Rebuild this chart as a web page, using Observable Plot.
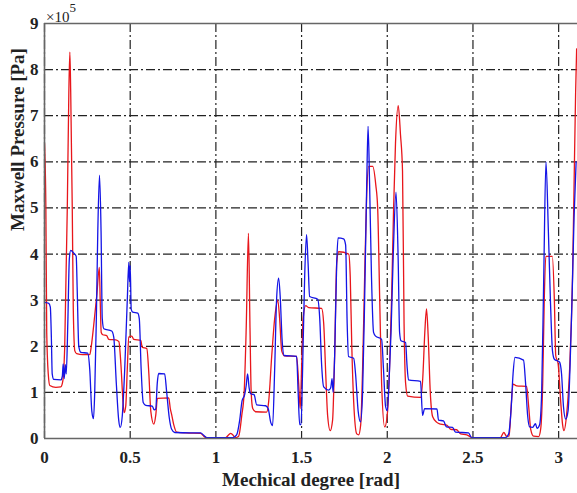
<!DOCTYPE html>
<html>
<head>
<meta charset="utf-8">
<script src="https://cdn.jsdelivr.net/npm/d3@7"></script>
<script src="https://cdn.jsdelivr.net/npm/@observablehq/plot@0.6"></script>
<style>
  html, body { margin: 0; padding: 0; background: #ffffff; }
  svg { display: block; }
  .mx [aria-label="x-axis tick label"], .mx [aria-label="y-axis tick label"] {
    font-size: 17px !important;
    font-weight: bold !important;
    font-family: 'Liberation Serif', 'Times New Roman', Times, serif !important;
  }
</style>
</head>
<body>
<div id="chart"></div>
<script>
// ---- tick values / labels ----
const xTicks = [0, 0.5, 1, 1.5, 2, 2.5, 3];
const yTicks = [0, 1, 2, 3, 4, 5, 6, 7, 8, 9];
const xLabel = "Mechical degree [rad]";
const yLabel = "Maxwell Pressure [Pa]";
const yExponentBase = "×10";
const yExponent = "5";

// ---- red series (x in rad, y in units of 1e5 Pa) ----
const redX = [0.000,0.008,0.013,0.022,0.031,0.066,0.095,0.107,0.118,0.133,0.142,0.148,0.153,0.162,0.168,0.177,0.188,0.223,0.264,0.273,0.287,0.305,0.320,0.325,0.331,0.340,0.363,0.375,0.416,0.434,0.446,0.458,0.465,0.474,0.483,0.492,0.509,0.521,0.562,0.570,0.597,0.609,0.620,0.638,0.649,0.659,0.725,0.734,0.742,0.754,0.771,0.824,0.911,0.929,0.946,1.057,1.075,1.086,1.098,1.115,1.133,1.151,1.165,1.177,1.190,1.199,1.206,1.215,1.232,1.296,1.308,1.326,1.343,1.361,1.372,1.384,1.401,1.471,1.483,1.492,1.500,1.509,1.524,1.541,1.617,1.629,1.641,1.652,1.667,1.681,1.693,1.705,1.717,1.775,1.784,1.793,1.804,1.822,1.833,1.845,1.856,1.868,1.880,1.892,1.915,1.933,1.944,1.956,1.967,1.985,2.002,2.013,2.025,2.037,2.048,2.064,2.077,2.089,2.098,2.107,2.119,2.195,2.207,2.219,2.229,2.239,2.251,2.265,2.289,2.312,2.347,2.370,2.405,2.428,2.464,2.497,2.660,2.680,2.696,2.711,2.723,2.734,2.755,2.813,2.825,2.837,2.854,2.883,2.895,2.907,2.916,2.925,2.963,2.975,2.983,2.997,3.012,3.023,3.031,3.046,3.064,3.081,3.090,3.099,3.105];
const redY = [6.40,5.00,2.30,1.40,1.15,1.11,1.12,1.25,2.00,5.00,7.50,8.38,7.50,5.00,2.80,1.90,1.84,1.82,1.82,2.00,2.45,3.10,3.71,3.00,2.30,2.25,2.23,2.15,2.14,2.10,1.60,0.80,0.56,0.70,1.50,2.20,2.22,2.15,2.13,1.98,1.95,1.40,0.60,0.31,0.50,0.87,0.88,0.65,0.52,0.30,0.14,0.12,0.11,0.05,0.02,0.02,0.08,0.11,0.08,0.02,0.05,0.50,1.00,2.40,4.45,2.40,1.00,0.65,0.58,0.57,0.80,1.80,2.60,3.00,2.60,1.90,1.79,1.78,1.20,0.65,1.50,2.60,2.88,2.84,2.82,2.50,1.40,0.50,0.17,0.40,1.80,3.80,4.05,4.00,3.50,2.00,0.80,0.10,0.08,0.30,1.50,3.50,5.30,5.90,5.90,5.50,5.00,3.00,1.20,0.25,0.60,1.50,3.00,5.00,6.40,7.22,6.60,5.80,2.50,1.20,0.92,0.89,1.30,2.30,2.81,2.20,1.00,0.47,0.35,0.31,0.29,0.20,0.19,0.10,0.08,0.02,0.02,0.13,0.05,0.05,0.70,1.18,1.14,1.13,0.70,0.20,0.05,0.04,0.20,1.20,3.00,3.95,3.95,3.00,1.80,1.62,0.80,0.30,0.17,0.50,1.50,3.50,5.50,7.50,8.45];

// ---- blue series (x in rad, y in units of 1e5 Pa) ----
const blueX = [0.000,0.025,0.034,0.040,0.045,0.054,0.095,0.104,0.109,0.115,0.121,0.127,0.136,0.145,0.153,0.171,0.185,0.191,0.200,0.212,0.252,0.264,0.276,0.286,0.293,0.302,0.311,0.321,0.330,0.337,0.346,0.392,0.404,0.419,0.433,0.442,0.454,0.468,0.483,0.492,0.496,0.500,0.506,0.515,0.544,0.553,0.564,0.576,0.591,0.629,0.640,0.649,0.658,0.666,0.701,0.713,0.728,0.742,0.760,0.853,0.911,0.929,0.946,1.098,1.121,1.139,1.153,1.168,1.177,1.185,1.194,1.203,1.223,1.238,1.290,1.305,1.320,1.331,1.343,1.354,1.366,1.375,1.387,1.398,1.471,1.480,1.489,1.497,1.506,1.518,1.529,1.538,1.547,1.594,1.606,1.617,1.629,1.658,1.670,1.678,1.684,1.693,1.705,1.713,1.745,1.757,1.766,1.774,1.804,1.815,1.830,1.844,1.856,1.868,1.880,1.888,1.897,1.908,1.920,1.932,1.967,1.978,1.990,2.000,2.010,2.022,2.035,2.051,2.063,2.072,2.080,2.107,2.115,2.124,2.194,2.206,2.218,2.290,2.299,2.328,2.346,2.381,2.398,2.474,2.492,2.690,2.708,2.722,2.734,2.745,2.795,2.807,2.819,2.831,2.847,2.865,2.874,2.889,2.901,2.913,2.926,2.940,2.952,2.964,2.975,3.005,3.017,3.028,3.041,3.055,3.066,3.078,3.090,3.102];
const blueY = [2.95,2.93,2.85,2.20,1.40,1.28,1.27,1.35,1.62,1.30,1.60,1.40,2.50,3.90,4.08,4.02,3.95,3.20,2.00,1.87,1.85,1.50,0.60,0.43,1.00,2.50,4.50,5.71,4.50,2.60,2.38,2.33,2.20,1.20,0.40,0.24,0.50,1.50,3.00,3.82,3.40,3.75,2.80,2.74,2.72,2.60,1.50,0.78,0.72,0.70,0.62,0.64,1.20,1.41,1.40,1.00,0.45,0.20,0.13,0.12,0.12,0.07,0.02,0.02,0.08,0.40,0.82,0.95,1.15,1.40,1.10,0.97,0.95,0.73,0.71,0.65,0.35,0.28,1.50,3.00,3.48,3.10,2.10,1.80,1.78,1.00,0.30,0.30,1.50,3.50,4.42,3.80,3.08,3.02,2.60,1.60,1.12,1.05,1.10,1.30,1.00,1.80,3.80,4.35,4.33,4.20,2.50,1.78,1.74,1.40,0.60,0.36,1.00,3.00,5.50,6.77,5.50,3.50,2.30,2.22,2.15,1.50,0.70,0.60,1.20,2.30,4.00,5.34,4.00,2.30,2.12,2.08,1.60,1.27,1.24,0.50,0.65,0.64,0.40,0.38,0.25,0.24,0.14,0.12,0.02,0.02,0.10,0.60,1.40,1.76,1.70,1.20,0.50,0.25,0.24,0.32,0.22,0.30,1.00,3.50,6.00,4.50,3.00,1.90,1.72,1.66,1.40,0.70,0.42,0.60,1.50,3.00,4.80,6.00];

// ---- build tables ----
const toRows = (xs, ys) => xs.map((x, i) => ({x, y: ys[i]}));
const redRows = toRows(redX, redY);
const blueRows = toRows(blueX, blueY);

const serif = "'Liberation Serif', 'Times New Roman', Times, serif";
const gridStyle = {stroke: "#222222", strokeOpacity: 1, strokeWidth: 1.2, strokeDasharray: "9,3,2,3"};
const frameStyle = {stroke: "#666666", strokeWidth: 1.6};

const chart = Plot.plot({
  className: "mx",
  width: 577,
  height: 493,
  marginLeft: 44,
  marginRight: 0,
  marginTop: 23,
  marginBottom: 55,
  style: {fontFamily: serif, fontSize: "16px", fontWeight: "bold", background: "#ffffff", color: "#222222"},
  x: {domain: [0, 3.11], label: null},
  y: {domain: [0, 9], label: null},
  marks: [
    Plot.gridX(xTicks, gridStyle),
    Plot.gridY(yTicks, gridStyle),
    Plot.line(redRows, {x: "x", y: "y", stroke: "#e8161b", strokeWidth: 1.3, curve: "monotone-x", clip: true}),
    Plot.line(blueRows, {x: "x", y: "y", stroke: "#1414e6", strokeWidth: 1.3, curve: "monotone-x", clip: true}),
    Plot.ruleX([0], frameStyle),
    Plot.ruleY([0, 9], frameStyle),
    Plot.axisX(xTicks, {tickSize: 0, tickPadding: 12, label: null, tickFormat: d => String(d), fontSize: 17, fontWeight: "bold", fill: "#222"}),
    Plot.axisY(yTicks, {tickSize: 0, tickPadding: 6, label: null, tickFormat: d => String(d), fontSize: 17, fontWeight: "bold", fill: "#222"}),
    Plot.text([xLabel], {frameAnchor: "bottom", lineAnchor: "bottom", dy: 47, fontSize: 19, fontWeight: "bold", fontFamily: serif, fill: "#222"}),
    Plot.text([yLabel], {frameAnchor: "left", lineAnchor: "bottom", rotate: -90, dx: -21, fontSize: 19, fontWeight: "bold", fontFamily: serif, fill: "#222"}),
    Plot.text([yExponentBase], {frameAnchor: "top-left", textAnchor: "start", lineAnchor: "bottom", dx: 1.5, dy: -2, fontSize: 15, fontWeight: "normal", fontFamily: serif, fill: "#222"}),
    Plot.text([yExponent], {frameAnchor: "top-left", textAnchor: "start", lineAnchor: "bottom", dx: 25, dy: -11.5, fontSize: 13, fontWeight: "normal", fontFamily: serif, fill: "#222"})
  ]
});

document.getElementById("chart").appendChild(chart);
</script>
</body>
</html>
